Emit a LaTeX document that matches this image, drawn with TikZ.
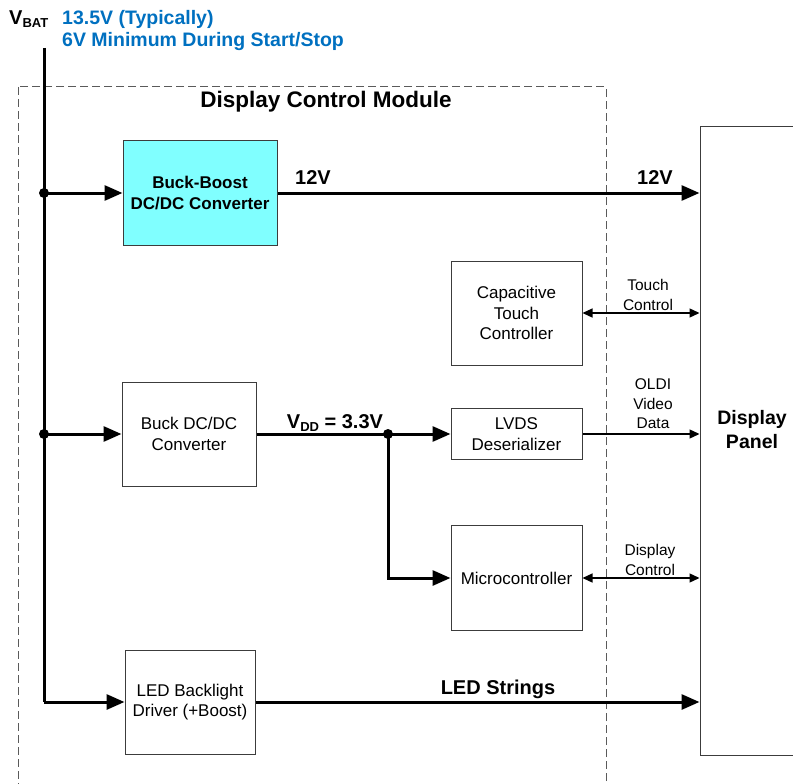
\documentclass[tikz,border=0pt]{standalone}
\usepackage{fontspec}
\setmainfont{Liberation Sans}
\usetikzlibrary{arrows.meta}
\definecolor{tiblue}{RGB}{0,112,192}
\definecolor{cyanfill}{RGB}{128,255,255}
\definecolor{boxline}{RGB}{60,60,60}
\definecolor{dashcol}{RGB}{90,90,90}
\begin{document}
\begin{tikzpicture}[x=1pt,y=-1pt,
  blk/.style={draw=boxline, line width=1pt, align=center, inner sep=0pt,
    font=\fontsize{17}{20.5}\selectfont, text=black},
  bblk/.style={blk, fill=cyanfill, font=\bfseries\fontsize{17}{20.5}\selectfont},
  panelbox/.style={draw=boxline, line width=1pt, inner sep=0pt},
  pw/.style={line width=3pt, -{Triangle[length=18pt,width=15pt]}},
  pwline/.style={line width=3pt},
  sig/.style={line width=1.3pt, -{Triangle[length=10pt,width=9pt]}},
  sigb/.style={line width=1.3pt, {Triangle[length=10pt,width=9pt]}-{Triangle[length=10pt,width=9pt]}},
  lbl/.style={font=\bfseries\fontsize{20}{24}\selectfont, inner sep=0pt},
  slbl/.style={font=\fontsize{15.5}{19.5}\selectfont, align=center, inner sep=0pt},
  modbox/.style={draw=dashcol, line width=1pt, dash pattern=on 8pt off 4pt},
  dot/.style={circle, fill=black, inner sep=0pt, minimum size=10pt}
]
\useasboundingbox (0,0) rectangle (793,784);

% module outline
\draw[modbox] (18,87) rectangle (606,800);
\node[lbl, font=\bfseries\fontsize{22.5}{26}\selectfont] (title) at (326,102) {Display Control Module};

% supply labels
\node[lbl, anchor=west] (vbat) at (9,19) {V\raisebox{-0.3ex}{\fontsize{13}{13}\selectfont BAT}};
\node[font=\bfseries\fontsize{19.5}{22}\selectfont, text=tiblue, align=left, anchor=north west, inner sep=0pt] (vnote) at (62,10) {13.5V (Typically)\\6V Minimum During Start/Stop};

% blocks
\node[bblk, minimum width=154pt, minimum height=105pt] (bb) at (200,193) {Buck-Boost\\DC/DC Converter};
\node[blk, minimum width=131pt, minimum height=104pt] (touch) at (516.5,313) {Capacitive\\Touch\\Controller};
\node[blk, minimum width=134pt, minimum height=104pt] (buck) at (189,434) {Buck DC/DC\\Converter};
\node[blk, minimum width=131pt, minimum height=51pt] (lvds) at (516.5,434) {LVDS\\Deserializer};
\node[blk, minimum width=131pt, minimum height=105pt] (mcu) at (516.5,578) {Microcontroller};
\node[blk, minimum width=130pt, minimum height=104pt] (led) at (190,702) {LED Backlight\\Driver (+Boost)};
\node[panelbox, minimum width=112pt, minimum height=629pt] (panel) at (756,440.5) {};
\node[lbl, align=center, font=\bfseries\fontsize{19.5}{24}\selectfont] (ptext) at (752,430) {Display\\Panel};

% supply rail
\coordinate (vtop) at (44,48);
\node[dot] (j1) at (44,193) {};
\node[dot] (j2) at (44,434) {};
\draw[pwline] (vtop) -- (j1.center) -- (j2.center) -- (j2.center |- led.west);
\draw[pw] (j2.center |- led.west) -- (led.west);
\draw[pw] (j1.center) -- (bb.west);
\draw[pw] (j2.center) -- (buck.west);

% outputs
\draw[pw] (bb.east) -- (bb.east -| panel.west);
\node[lbl] (v12a) at (313,178) {12V};
\node[lbl] (v12b) at (655,178) {12V};

\node[dot] (j3) at (388,434) {};
\draw[pwline] (buck.east) -- (j3.center);
\draw[pw] (j3.center) -- (lvds.west);
\draw[pw] (j3.center) -- (j3.center |- mcu.west) -- (mcu.west);
\node[lbl, anchor=base] (vdd) at (335,428) {V\raisebox{-0.3ex}{\fontsize{13}{13}\selectfont DD} = 3.3V};

\draw[pw] (led.east) -- (led.east -| panel.west);
\node[lbl] (ledstr) at (498,689) {LED Strings};

% signals
\draw[sigb] (touch.east) -- (touch.east -| panel.west);
\node[slbl] (tcl) at (648,295) {Touch\\Control};
\draw[sig] (lvds.east) -- (lvds.east -| panel.west);
\node[slbl] (oldi) at (653,404) {OLDI\\Video\\Data};
\draw[sigb] (mcu.east) -- (mcu.east -| panel.west);
\node[slbl] (dcl) at (650,560) {Display\\Control};
\end{tikzpicture}
\end{document}
